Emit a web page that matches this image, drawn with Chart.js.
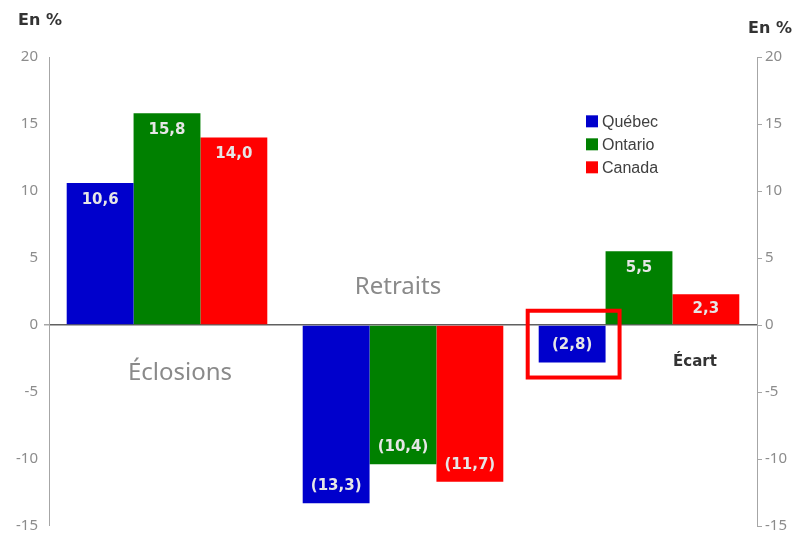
<!DOCTYPE html>
<html>
<head>
<meta charset="utf-8">
<script src="https://cdn.jsdelivr.net/npm/chart.js@4/dist/chart.umd.min.js"></script>
<style>
  html, body { margin: 0; padding: 0; background: #fff; }
  #wrap { width: 794px; height: 534px; position: relative; }
</style>
</head>
<body>
<div id="wrap"><canvas id="chart"></canvas></div>
<script>
const categories = ['Éclosions', 'Retraits', 'Écart'];
const quebec = [10.6, -13.3, -2.8];
const ontario = [15.8, -10.4, 5.5];
const canada = [14.0, -11.7, 2.3];
const seriesNames = ['Québec', 'Ontario', 'Canada'];
const seriesColors = ['#0000CC', '#008000', '#FF0000'];
const yTicks = [20, 15, 10, 5, 0, -5, -10, -15];

function fmt(v) {
    const s = Math.abs(v).toFixed(1).replace('.', ',');
    return v < 0 ? '(' + s + ')' : s;
}

// category titles placed inside the plot, in value coordinates
const catTitles = [
    { text: 'Éclosions', idx: 0, dx: 13, y: -3.6, font: '24px "Noto Sans"', color: '#8a8a8a' },
    { text: 'Retraits', idx: 1, dx: -5, y: 2.8, font: '24px "Noto Sans"', color: '#8a8a8a' },
    { text: 'Écart', idx: 2, dx: 56, y: -2.8, font: 'bold 15px "DejaVu Sans"', color: '#333333' }
];

const extras = {
    id: 'extras',
    afterDatasetsDraw(chart) {
        const ctx = chart.ctx;
        const x = chart.scales.x, y = chart.scales.y;

        // value labels inside the bars
        ctx.save();
        ctx.font = 'bold 15px "DejaVu Sans"';
        ctx.fillStyle = '#e6e6e6';
        ctx.textAlign = 'center';
        ctx.textBaseline = 'middle';
        chart.data.datasets.forEach((ds, di) => {
            chart.getDatasetMeta(di).data.forEach((bar, i) => {
                const v = ds.data[i];
                const h = Math.abs(bar.base - bar.y);
                const off = Math.min(17, h / 2);
                const ly = v >= 0 ? bar.y + off : bar.y - off;
                ctx.fillText(fmt(v), bar.x, ly);
            });
        });

        // highlight box around Québec gap
        const hb = chart.getDatasetMeta(0).data[2];
        ctx.strokeStyle = '#FF0000';
        ctx.lineWidth = 4;
        const bl = hb.x - hb.width / 2, br = hb.x + hb.width / 2;
        ctx.strokeRect(bl - 11, hb.base - 15, (br - bl) + 25, (hb.y - hb.base) + 30);

        // category titles
        catTitles.forEach(t => {
            ctx.font = t.font;
            ctx.fillStyle = t.color;
            ctx.textAlign = 'center';
            ctx.textBaseline = 'middle';
            ctx.fillText(t.text, x.getPixelForValue(t.idx) + t.dx, y.getPixelForValue(t.y));
        });

        // legend
        ctx.font = '16px "Liberation Sans"';
        ctx.textAlign = 'left';
        seriesNames.forEach((n, i) => {
            const ly = y.getPixelForValue(15.2) + i * 23;
            ctx.fillStyle = seriesColors[i];
            ctx.fillRect(586, ly - 6, 12, 12);
            ctx.fillStyle = '#404040';
            ctx.fillText(n, 602, ly + 1);
        });

        // unit labels
        ctx.font = 'bold 16px "DejaVu Sans"';
        ctx.fillStyle = '#333333';
        ctx.textAlign = 'left';
        ctx.fillText('En %', 18, 21);
        ctx.textAlign = 'right';
        ctx.fillText('En %', 792, 29);
        ctx.restore();
    }
};

const tickFont = { family: '"Noto Sans"', size: 15 };

new Chart(document.getElementById('chart'), {
    type: 'bar',
    data: {
        labels: categories,
        datasets: seriesNames.map((n, i) => ({
            label: n,
            data: [quebec, ontario, canada][i],
            backgroundColor: seriesColors[i],
            borderWidth: 0,
            categoryPercentage: 0.85,
            barPercentage: 1.0
        }))
    },
    options: {
        responsive: true,
        maintainAspectRatio: false,
        animation: false,
        layout: { padding: { top: 57, bottom: 8, left: 0, right: 0 } },
        plugins: { legend: { display: false }, tooltip: { enabled: false } },
        scales: {
            x: { display: false },
            y: {
                position: 'left',
                min: -15, max: 20,
                afterFit(s) { s.width = 49; s.paddingTop = 0; s.paddingBottom = 0; },
                afterBuildTicks(s) { s.ticks = yTicks.map(v => ({ value: v })); },
                ticks: { color: '#8c8c8c', font: tickFont, padding: 6 },
                border: { display: true, color: '#a6a6a6', width: 1 },
                grid: {
                    drawOnChartArea: true,
                    color: c => (c.tick && c.tick.value === 0 ? '#606060' : 'transparent'),
                    lineWidth: c => (c.tick && c.tick.value === 0 ? 1.5 : 0),
                    tickColor: '#a6a6a6',
                    tickLength: 5
                }
            },
            y2: {
                position: 'right',
                min: -15, max: 20,
                afterFit(s) { s.width = 37; s.paddingTop = 0; s.paddingBottom = 0; },
                afterBuildTicks(s) { s.ticks = yTicks.map(v => ({ value: v })); },
                ticks: { color: '#8c8c8c', font: tickFont, padding: 3 },
                border: { display: true, color: '#a6a6a6', width: 1 },
                grid: { drawOnChartArea: false, tickColor: '#a6a6a6', tickLength: 5 }
            }
        }
    },
    plugins: [extras]
});
</script>
</body>
</html>
